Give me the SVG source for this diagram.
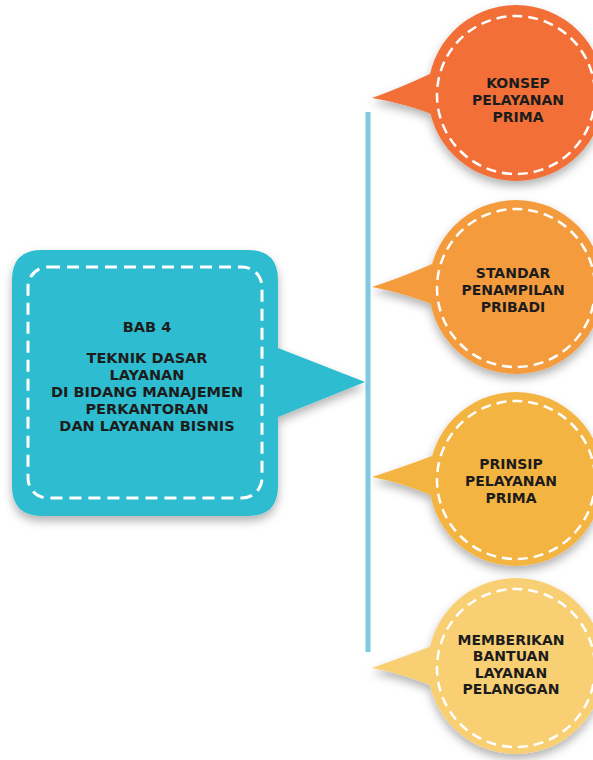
<svg xmlns="http://www.w3.org/2000/svg" width="593" height="760" viewBox="0 0 593 760">
<defs>
<filter id="sh" x="-20%" y="-20%" width="140%" height="150%">
<feDropShadow dx="0" dy="5" stdDeviation="5" flood-color="#000" flood-opacity="0.3"/>
</filter>
<style>
.t{font-family:"DejaVu Sans","Liberation Sans",sans-serif;font-weight:700;font-size:14.5px;fill:#1c1c1c;text-anchor:middle}
.c{font-size:14px}
.dash{fill:none;stroke:#fff;stroke-width:2.5;stroke-dasharray:10 6}
.dashb{fill:none;stroke:#fff;stroke-width:3;stroke-dasharray:12 7}
</style>
</defs>
<rect width="593" height="760" fill="#fff"/>
<g id="connectors">
<line x1="368" y1="112" x2="368" y2="652" stroke="#7dcbe3" stroke-width="5"/>
</g>
<g id="main">
<path d="M42 250 H248 Q278 250 278 280 V348 L365 382 L278 417 V486 Q278 516 248 516 H42 Q12 516 12 486 V280 Q12 250 42 250 Z" fill="#2dbcd0" filter="url(#sh)"/>
<rect x="28" y="267" width="234" height="231" rx="20" class="dashb"/>
<text class="t" x="147" y="332">BAB 4</text>
<text class="t" x="147" y="363">TEKNIK DASAR</text>
<text class="t" x="147" y="380">LAYANAN</text>
<text class="t" x="147" y="397">DI BIDANG MANAJEMEN</text>
<text class="t" x="147" y="414">PERKANTORAN</text>
<text class="t" x="147" y="431">DAN LAYANAN BISNIS</text>
</g>
<g id="n1">
<g filter="url(#sh)" fill="#f26f39">
<circle cx="516" cy="93" r="88"/>
<path d="M432 73 Q400 88 372 98 Q405 103 442 118 Z"/>
</g>
<circle cx="516" cy="95" r="79" class="dash"/>
<text class="t c" x="518" y="88">KONSEP</text>
<text class="t c" x="518" y="105">PELAYANAN</text>
<text class="t c" x="518" y="122">PRIMA</text>
</g>
<g id="n2">
<g filter="url(#sh)" fill="#f49c3c">
<circle cx="516" cy="287" r="87"/>
<path d="M432 264 Q400 278 372 287 Q405 293 442 308 Z"/>
</g>
<circle cx="516" cy="288" r="79" class="dash"/>
<text class="t c" x="513" y="278">STANDAR</text>
<text class="t c" x="513" y="295">PENAMPILAN</text>
<text class="t c" x="513" y="312">PRIBADI</text>
</g>
<g id="n3">
<g filter="url(#sh)" fill="#f4b443">
<circle cx="516" cy="479" r="87"/>
<path d="M432 456 Q400 468 372 477 Q405 483 442 500 Z"/>
</g>
<circle cx="516" cy="480" r="79" class="dash"/>
<text class="t c" x="511" y="469">PRINSIP</text>
<text class="t c" x="511" y="486">PELAYANAN</text>
<text class="t c" x="511" y="503">PRIMA</text>
</g>
<g id="n4">
<g filter="url(#sh)" fill="#f9cf73">
<circle cx="516" cy="666" r="88"/>
<path d="M432 646 Q400 658 372 668 Q405 674 442 690 Z"/>
</g>
<circle cx="516" cy="668" r="79" class="dash"/>
<text class="t c" x="511" y="645">MEMBERIKAN</text>
<text class="t c" x="511" y="661.3">BANTUAN</text>
<text class="t c" x="511" y="677.6">LAYANAN</text>
<text class="t c" x="511" y="694">PELANGGAN</text>
</g>
</svg>
